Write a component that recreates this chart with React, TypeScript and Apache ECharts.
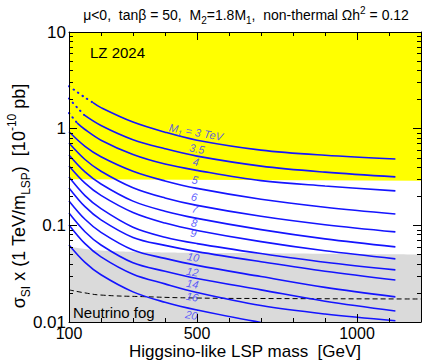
import React, { useEffect, useRef } from 'react';
import * as echarts from 'echarts';

// ---- data ----
const xTickLabels = ['100', '500', '1000'];
const xTickValues = [100, 500, 1000];
const xLongTicks = [500, 1000];
const yTickValues = [0.01, 0.1, 1, 10];
const yTickLabels = ['0.01', '0.1', '1', '10'];

const m1Names = ['3', '3.5', '4', '5', '6', '7', '8', '9', '10', '12', '14', '16', '20'];

// dotted (low-mass) pieces of the three top curves
const dottedMass3 = [100, 125, 150, 175];
const dotted3 = [2.75, 2.4, 2.1, 1.86];
const dottedMass35 = [100, 125, 147];
const dotted35 = [2.05, 1.66, 1.39];
const dottedMass4 = [100, 125];
const dotted4 = [1.45, 1.15];

// solid pieces
const solidMass3 = [175, 200, 300, 400, 500, 700, 900, 1120];
const solid3 = [1.86, 1.65, 1.17, 0.92, 0.76, 0.6, 0.53, 0.486];
const solidMass35 = [147, 200, 300, 400, 500, 700, 900, 1120];
const solid35 = [1.39, 1.08, 0.77, 0.62, 0.52, 0.41, 0.355, 0.317];
const solidMass4 = [125, 150, 200, 300, 400, 500, 700, 900, 1120];
const solid4 = [1.15, 0.98, 0.76, 0.54, 0.43, 0.37, 0.29, 0.255, 0.227];
const fullMass = [100, 150, 200, 300, 400, 500, 700, 900, 1120];
const solid5 = [0.93, 0.657, 0.513, 0.363, 0.288, 0.241, 0.186, 0.154, 0.131];
const solid6 = [0.711, 0.48, 0.363, 0.245, 0.192, 0.161, 0.124, 0.1015, 0.0855];
const solid7 = [0.535, 0.357, 0.268, 0.178, 0.14, 0.118, 0.0902, 0.0724, 0.0598];
const solid8 = [0.411, 0.273, 0.204, 0.1357, 0.1055, 0.0886, 0.0678, 0.0545, 0.045];
const solid9 = [0.316, 0.203, 0.1486, 0.0955, 0.0753, 0.0647, 0.0511, 0.0415, 0.0346];
const solid10 = [0.244, 0.156, 0.114, 0.075, 0.062, 0.0535, 0.042, 0.0335, 0.0272];
const solid12 = [0.179, 0.1155, 0.0847, 0.0556, 0.0455, 0.0385, 0.0295, 0.0228, 0.0182];
const solid14 = [0.134, 0.0859, 0.0626, 0.041, 0.0335, 0.0282, 0.0215, 0.0164, 0.013];
const solid16 = [0.101, 0.0646, 0.0472, 0.0312, 0.0248, 0.0202, 0.0148, 0.0121, 0.0103];
const solid20 = [0.0627, 0.0414, 0.0308, 0.0205, 0.016, 0.0133, 0.0099, 0.0081, 0.0066];

// excluded (LZ 2024) boundary and neutrino fog
const lzMass = [100, 1200];
const lzLimit = [0.3, 0.29];
const fogMass = [100, 150, 200, 330, 500, 700, 1200];
const fogTop = [0.06, 0.057, 0.055, 0.053, 0.052, 0.0515, 0.05];
const floorMass = [100, 150, 200, 330, 500, 700, 1200];
const floorValue = [0.0215, 0.02, 0.019, 0.0183, 0.0177, 0.0175, 0.0173];

// curve label anchors
const labelMass = [497, 500, 497, 494, 491, 494, 491, 489, 488, 486, 486, 485, 483];
const labelValue = [0.92, 0.62, 0.453, 0.295, 0.197, 0.148, 0.106, 0.0833, 0.047, 0.033, 0.0248, 0.0182, 0.0118];

const BLUE = '#1414ff';
const LBLUE = '#3a3aff';
const FONT = 'Liberation Sans, Arial, sans-serif';

const zip = (xs: number[], ys: number[]) => xs.map((x, i) => [x, ys[i]]);

export default function App() {
  const ref = useRef<HTMLDivElement>(null);
  useEffect(() => {
    document.body.style.margin = '0';
    const chart = echarts.init(ref.current!, undefined, { renderer: 'svg' });

    const minorY: number[] = [];
    [0.01, 0.1, 1].forEach((d) => {
      for (let k = 2; k <= 9; k++) minorY.push(+(d * k).toPrecision(3));
    });

    const solidCurves: [number[], number[]][] = [
      [solidMass3, solid3], [solidMass35, solid35], [solidMass4, solid4],
      [fullMass, solid5], [fullMass, solid6], [fullMass, solid7], [fullMass, solid8],
      [fullMass, solid9], [fullMass, solid10], [fullMass, solid12], [fullMass, solid14],
      [fullMass, solid16], [fullMass, solid20],
    ];
    const dottedCurves: [number[], number[]][] = [
      [dottedMass3, dotted3], [dottedMass35, dotted35], [dottedMass4, dotted4],
    ];

    const baseX = { type: 'value', min: 100, max: 1200, interval: 100, z: 10, splitLine: { show: false } };
    const baseY = { type: 'log', min: 0.01, max: 10, logBase: 10, z: 10, splitLine: { show: false } };
    const line = { show: true, lineStyle: { color: '#000', width: 1 } };
    const tickStyle = { color: '#000', width: 1 };

    const series: any[] = [
      {
        type: 'line', name: 'LZ', data: zip(lzMass, lzLimit), symbol: 'none', z: 1,
        lineStyle: { width: 0 }, areaStyle: { color: '#ffff00', opacity: 1, origin: 'end' },
      },
      {
        type: 'line', name: 'fog', data: zip(fogMass, fogTop), symbol: 'none', z: 1, smooth: true,
        lineStyle: { width: 0 }, areaStyle: { color: '#dadada', opacity: 1, origin: 'start' },
      },
      {
        type: 'line', name: 'floor', data: zip(floorMass, floorValue), symbol: 'none', z: 2, smooth: true,
        lineStyle: { color: '#000', width: 1, type: [5, 3] },
      },
      ...solidCurves.map(([ms, vs], i) => ({
        type: 'line', name: 'M1=' + m1Names[i], data: zip(ms, vs), symbol: 'none', z: 3,
        smooth: 0.35, lineStyle: { color: BLUE, width: 1.6 },
      })),
      ...dottedCurves.map(([ms, vs], i) => ({
        type: 'line', name: 'dot' + m1Names[i], data: zip(ms, vs), symbol: 'none', z: 3,
        smooth: 0.3, lineStyle: { color: BLUE, width: 2, type: [0.5, 5], cap: 'round' },
      })),
      {
        type: 'scatter', name: 'labels', z: 5, symbolSize: 1, itemStyle: { color: 'rgba(0,0,0,0)' },
        data: labelMass.map((m, i) => ({
          name: m1Names[i],
          value: [m, labelValue[i]],
          label: i === 0 ? { formatter: '{a|M}{s|1}{a| = 3 TeV}' } : undefined,
        })),
        label: {
          show: true, position: 'inside', formatter: '{b}', rotate: -10,
          color: LBLUE, fontStyle: 'italic', fontSize: 11, fontFamily: FONT,
          rich: {
            a: { color: LBLUE, fontStyle: 'italic', fontSize: 11, fontFamily: FONT, lineHeight: 16, verticalAlign: 'middle' },
            s: { color: LBLUE, fontStyle: 'italic', fontSize: 8, fontFamily: FONT, lineHeight: 16, verticalAlign: 'bottom' },
          },
        },
      },
    ];

    chart.setOption({
      animation: false,
      grid: { left: 69, right: 3, top: 32, bottom: 39, containLabel: false },
      xAxis: [
        {
          ...baseX, position: 'bottom', axisLine: line,
          axisTick: { show: true, inside: true, length: 4, lineStyle: tickStyle },
          axisLabel: {
            show: true, customValues: xTickValues, margin: 3, fontSize: 16, color: '#000', fontFamily: FONT,
            formatter: (v: number) => xTickLabels[xTickValues.indexOf(Math.round(v))] ?? '',
          },
        },
        {
          ...baseX, position: 'bottom', axisLine: { show: false },
          axisTick: { show: true, inside: true, length: 8, customValues: xLongTicks, lineStyle: tickStyle },
          axisLabel: { show: false },
        },
        {
          ...baseX, position: 'top', axisLine: line,
          axisTick: { show: true, inside: true, length: 4, lineStyle: tickStyle },
          axisLabel: { show: false },
        },
        {
          ...baseX, position: 'top', axisLine: { show: false },
          axisTick: { show: true, inside: true, length: 8, customValues: xLongTicks, lineStyle: tickStyle },
          axisLabel: { show: false },
        },
      ],
      yAxis: [
        {
          ...baseY, position: 'left', axisLine: line,
          axisTick: { show: true, inside: true, length: 8, customValues: yTickValues, lineStyle: tickStyle },
          axisLabel: {
            show: true, customValues: yTickValues, margin: 3, fontSize: 17, color: '#000', fontFamily: FONT,
            formatter: (v: number) => yTickLabels[Math.round(Math.log10(v)) + 2] ?? '',
          },
        },
        {
          ...baseY, position: 'left', axisLine: { show: false },
          axisTick: { show: true, inside: true, length: 4, customValues: minorY, lineStyle: tickStyle },
          axisLabel: { show: false },
        },
        {
          ...baseY, position: 'right', axisLine: line,
          axisTick: { show: true, inside: true, length: 8, customValues: yTickValues, lineStyle: tickStyle },
          axisLabel: { show: false },
        },
        {
          ...baseY, position: 'right', axisLine: { show: false },
          axisTick: { show: true, inside: true, length: 4, customValues: minorY, lineStyle: tickStyle },
          axisLabel: { show: false },
        },
      ],
      series,
      graphic: [
        {
          type: 'text', x: 246, y: 15, z: 20,
          style: {
            text: '{n|μ<0,  tanβ = 50,  M}{b|2}{n|=1.8M}{b|1}{n|,  non-thermal Ωh}{t|2}{n| = 0.12}',
            align: 'center', verticalAlign: 'middle', fill: '#000',
            rich: {
              n: { fontSize: 14, fontFamily: FONT, fill: '#000', lineHeight: 20, verticalAlign: 'middle' },
              b: { fontSize: 10, fontFamily: FONT, fill: '#000', lineHeight: 10, verticalAlign: 'bottom' },
              t: { fontSize: 10, fontFamily: FONT, fill: '#000', lineHeight: 10, verticalAlign: 'top' },
            },
          },
        },
        {
          type: 'text', x: 19, y: 196, rotation: Math.PI / 2, z: 20,
          style: {
            text: '{n|σ}{b|SI}{n| x (1 TeV/m}{b|LSP}{n|)  [10}{t|-10}{n| pb]}',
            align: 'center', verticalAlign: 'middle', fill: '#000',
            rich: {
              n: { fontSize: 18, fontFamily: FONT, fill: '#000', lineHeight: 26, verticalAlign: 'middle' },
              b: { fontSize: 12, fontFamily: FONT, fill: '#000', lineHeight: 12, verticalAlign: 'bottom' },
              t: { fontSize: 12, fontFamily: FONT, fill: '#000', lineHeight: 12, verticalAlign: 'top' },
            },
          },
        },
        {
          type: 'text', x: 245, y: 351, z: 20,
          style: {
            text: 'Higgsino-like LSP mass  [GeV]', align: 'center', verticalAlign: 'middle',
            fontSize: 17, fontFamily: FONT, fill: '#000',
          },
        },
        {
          type: 'text', x: 90, y: 52, z: 20,
          style: { text: 'LZ 2024', align: 'left', verticalAlign: 'middle', fontSize: 15, fontFamily: FONT, fill: '#000' },
        },
        {
          type: 'text', x: 73, y: 312, z: 20,
          style: { text: 'Neutrino fog', align: 'left', verticalAlign: 'middle', fontSize: 15, fontFamily: FONT, fill: '#000' },
        },
      ],
    });
    return () => chart.dispose();
  }, []);
  return <div ref={ref} style={{ width: 424, height: 361 }} />;
}
